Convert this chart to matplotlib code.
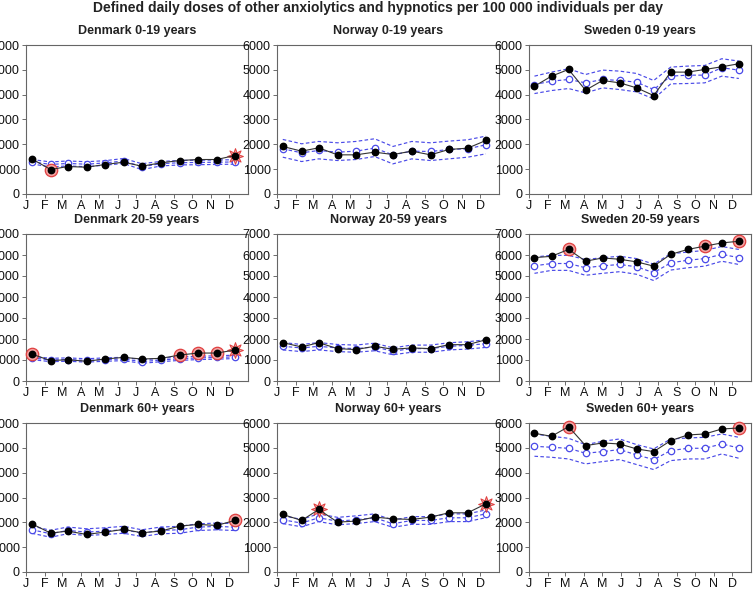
import matplotlib
matplotlib.use("Agg")
import matplotlib.pyplot as plt
import numpy as np

plt.rcParams['font.family'] = ['Liberation Sans', 'DejaVu Sans']

month_labels = ["J", "F", "M", "A", "M", "J", "J", "A", "S", "O", "N", "D"]
month_starts = [0, 31, 59, 90, 120, 151, 181, 212, 243, 273, 304, 334]

# ---- Denmark 0-19
dk019_obs = [1416, 984, 1106, 1079, 1186, 1281, 1119, 1254, 1348, 1389, 1389, 1550]
dk019_exp = [1300, 1190, 1230, 1200, 1250, 1330, 1100, 1220, 1260, 1270, 1280, 1290]
dk019_up = [1390, 1290, 1330, 1300, 1340, 1430, 1220, 1310, 1350, 1360, 1370, 1380]
dk019_lo = [1210, 1090, 1130, 1100, 1160, 1230, 980, 1130, 1170, 1180, 1190, 1200]
dk019_circ = [1]
dk019_star = [11]

# ---- Norway 0-19
no019_obs = [1914, 1725, 1860, 1577, 1577, 1685, 1590, 1725, 1577, 1792, 1846, 2156]
no019_exp = [1820, 1658, 1752, 1685, 1725, 1846, 1577, 1725, 1712, 1792, 1820, 1981]
no019_up = [2197, 2022, 2116, 2062, 2116, 2224, 1914, 2116, 2062, 2130, 2183, 2332]
no019_lo = [1482, 1307, 1415, 1348, 1388, 1509, 1213, 1415, 1348, 1415, 1482, 1617]
no019_circ = []
no019_star = []

# ---- Sweden 0-19 (13 four-week periods)
se019_obs = [4341, 4746, 5015, 4180, 4571, 4476, 4274, 3964, 4908, 4908, 5015, 5123, 5245]
se019_exp = [4409, 4544, 4611, 4476, 4611, 4571, 4503, 4207, 4746, 4786, 4786, 5083, 4989]
se019_up = [4746, 4908, 5042, 4813, 4989, 4948, 4854, 4571, 5110, 5150, 5177, 5447, 5353]
se019_lo = [4045, 4166, 4247, 4072, 4274, 4207, 4112, 3829, 4436, 4449, 4476, 4746, 4652]
se019_circ = []
se019_star = []

# ---- Denmark 20-59
dk2059_obs = [1282, 969, 1016, 938, 1047, 1125, 1047, 1078, 1235, 1331, 1331, 1473]
dk2059_exp = [1100, 1000, 1020, 980, 1020, 1050, 920, 1000, 1060, 1100, 1120, 1150]
dk2059_up = [1180, 1080, 1100, 1060, 1100, 1130, 1010, 1080, 1140, 1180, 1200, 1230]
dk2059_lo = [1020, 920, 940, 900, 940, 970, 840, 920, 980, 1020, 1040, 1070]
dk2059_circ = [0, 8, 9, 10]
dk2059_star = [11]

# ---- Norway 20-59
no2059_obs = [1826, 1621, 1826, 1543, 1496, 1652, 1512, 1574, 1543, 1730, 1730, 1964]
no2059_exp = [1652, 1574, 1652, 1574, 1543, 1621, 1418, 1543, 1543, 1652, 1699, 1777]
no2059_up = [1830, 1740, 1830, 1740, 1710, 1800, 1580, 1710, 1710, 1820, 1870, 1960]
no2059_lo = [1480, 1400, 1480, 1400, 1370, 1440, 1250, 1370, 1370, 1480, 1520, 1600]
no2059_circ = []
no2059_star = []

# ---- Sweden 20-59
se2059_obs = [5875, 5938, 6265, 5704, 5860, 5797, 5673, 5470, 6031, 6265, 6421, 6576, 6654]
se2059_exp = [5485, 5595, 5595, 5392, 5485, 5548, 5439, 5158, 5626, 5751, 5829, 6031, 5875]
se2059_up = [5906, 5984, 5984, 5782, 5875, 5938, 5829, 5564, 6062, 6140, 6218, 6405, 6265]
se2059_lo = [5127, 5268, 5268, 5034, 5127, 5205, 5081, 4784, 5283, 5392, 5470, 5704, 5548]
se2059_circ = [2, 10, 12]
se2059_star = []

# ---- Denmark 60+
dk60_obs = [1942, 1567, 1647, 1513, 1607, 1714, 1580, 1647, 1848, 1915, 1875, 2076]
dk60_exp = [1701, 1540, 1674, 1607, 1647, 1701, 1567, 1674, 1701, 1808, 1835, 1808]
dk60_up = [1850, 1680, 1810, 1740, 1780, 1840, 1700, 1810, 1840, 1940, 1970, 1950]
dk60_lo = [1560, 1400, 1540, 1470, 1510, 1560, 1430, 1540, 1560, 1670, 1700, 1670]
dk60_circ = [11]
dk60_star = []

# ---- Norway 60+
no60_obs = [2317, 2076, 2518, 2009, 2049, 2210, 2143, 2116, 2210, 2384, 2384, 2745]
no60_exp = [2103, 1969, 2183, 2049, 2103, 2183, 1942, 2076, 2076, 2183, 2183, 2344]
no60_up = [2260, 2120, 2340, 2200, 2260, 2340, 2090, 2230, 2230, 2340, 2340, 2500]
no60_lo = [1950, 1820, 2030, 1900, 1950, 2030, 1800, 1920, 1920, 2030, 2030, 2190]
no60_circ = []
no60_star = [2, 11]

# ---- Sweden 60+
se60_obs = [5585, 5464, 5853, 5089, 5196, 5156, 4955, 4848, 5290, 5518, 5558, 5759, 5799]
se60_exp = [5062, 5022, 4982, 4781, 4848, 4929, 4714, 4527, 4888, 4982, 4982, 5156, 4995]
se60_up = [5558, 5464, 5384, 5129, 5263, 5357, 5129, 4955, 5357, 5397, 5424, 5558, 5424]
se60_lo = [4661, 4620, 4553, 4353, 4446, 4527, 4326, 4125, 4486, 4553, 4553, 4754, 4580]
se60_circ = [2, 12]
se60_star = []

panels = [
    ("Denmark 0-19 years", "monthly", 6000, dk019_obs, dk019_exp, dk019_up, dk019_lo, dk019_circ, dk019_star),
    ("Norway 0-19 years", "monthly", 6000, no019_obs, no019_exp, no019_up, no019_lo, no019_circ, no019_star),
    ("Sweden 0-19 years", "period", 6000, se019_obs, se019_exp, se019_up, se019_lo, se019_circ, se019_star),
    ("Denmark 20-59 years", "monthly", 7000, dk2059_obs, dk2059_exp, dk2059_up, dk2059_lo, dk2059_circ, dk2059_star),
    ("Norway 20-59 years", "monthly", 7000, no2059_obs, no2059_exp, no2059_up, no2059_lo, no2059_circ, no2059_star),
    ("Sweden 20-59 years", "period", 7000, se2059_obs, se2059_exp, se2059_up, se2059_lo, se2059_circ, se2059_star),
    ("Denmark 60+ years", "monthly", 6000, dk60_obs, dk60_exp, dk60_up, dk60_lo, dk60_circ, dk60_star),
    ("Norway 60+ years", "monthly", 6000, no60_obs, no60_exp, no60_up, no60_lo, no60_circ, no60_star),
    ("Sweden 60+ years", "period", 6000, se60_obs, se60_exp, se60_up, se60_lo, se60_circ, se60_star),
]

W, H = 756, 590
fig = plt.figure(figsize=(W / 100, H / 100), dpi=100)
fig.text(0.5, 1 - 8 / H, "Defined daily doses of other anxiolytics and hypnotics per 100 000 individuals per day",
         ha="center", va="center", fontsize=10, fontweight="bold", color="#222222")

col_left = [26, 277, 529]
col_w = 222
rows = [(45, 194), (234, 381), (423, 572)]

blue = "#4a4ae8"
for i, (title, kind, ymax, obs, exp, up, lo, circ, star) in enumerate(panels):
    r, c = divmod(i, 3)
    top, bot = rows[r]
    ax = fig.add_axes([col_left[c] / W, 1 - bot / H, col_w / W, (bot - top) / H])
    n = len(obs)
    if kind == "monthly":
        x = np.array(month_starts[:n]) + 9.5
    else:
        x = 9 + 28 * np.arange(n)
    ax.plot(x, up, ls=(0, (3, 2)), color=blue, lw=0.85, zorder=2)
    ax.plot(x, lo, ls=(0, (3, 2)), color=blue, lw=0.85, zorder=2)
    ax.plot(x, exp, ls=(0, (3, 2)), color=blue, lw=0.85, marker="o", ms=4.6,
            mfc="white", mec=blue, mew=0.9, zorder=3)
    obs_a = np.array(obs)
    if circ:
        ax.scatter(x[circ], obs_a[circ], s=80, facecolor="#f4a0a0", edgecolor="#e04040",
                   linewidth=0.9, zorder=4, clip_on=False)
    if star:
        ax.scatter(x[star], obs_a[star], s=130, marker=(8, 1, 0), facecolor="#f4a0a0",
                   edgecolor="#e04040", linewidth=0.7, zorder=4, clip_on=False)
    ax.plot(x, obs, color="#333333", lw=0.8, marker="o", ms=4.6, mfc="black", mec="black",
            zorder=5, clip_on=False)

    ax.set_xlim(0, 365)
    ax.set_ylim(0, ymax)
    ax.set_xticks(month_starts)
    ax.set_xticklabels(month_labels)
    ax.set_yticks(np.arange(0, ymax + 1, 1000))
    ax.tick_params(axis="both", labelsize=9, length=3, width=0.6, color="#555555",
                   labelcolor="#111111", pad=1.5)
    for s in ax.spines.values():
        s.set_color("#666666")
        s.set_linewidth(0.8)
    ax.set_title(title, fontsize=9, fontweight="bold", color="#222222", pad=8)

fig.savefig("out.png", dpi=100)
